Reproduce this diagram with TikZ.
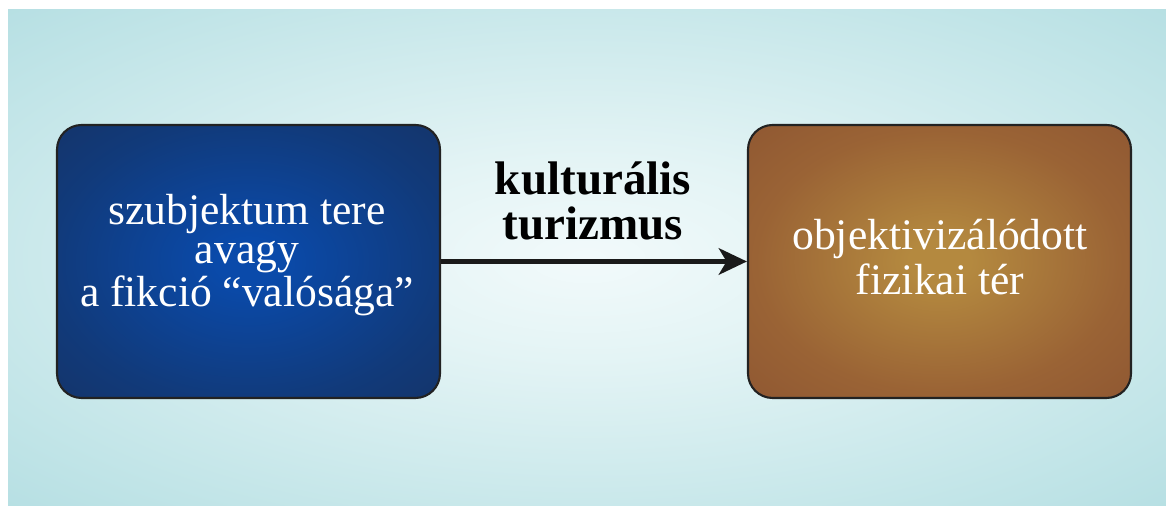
\documentclass[tikz,border=0pt]{standalone}
\usepackage{fontspec}
\setmainfont{Liberation Serif}
\usetikzlibrary{arrows.meta}
\definecolor{bgin}{HTML}{F2FAFB}
\definecolor{bgin2}{HTML}{E4F4F5}
\definecolor{bgmid}{HTML}{C0E4E7}
\definecolor{bgout}{HTML}{A8D8DD}
\definecolor{lin}{HTML}{0A4AAA}
\definecolor{lmid}{HTML}{113A7A}
\definecolor{lout}{HTML}{17305E}
\definecolor{rin}{HTML}{B4893F}
\definecolor{rmid}{HTML}{9A6335}
\definecolor{rout}{HTML}{8A5231}
\definecolor{boxline}{HTML}{222222}
\definecolor{arrowc}{HTML}{1A1A1A}
\pgfdeclareradialshading{bgshade}{\pgfpointorigin}{color(0bp)=(bgin); color(10bp)=(bgin2); color(30bp)=(bgmid); color(44bp)=(bgout); color(72bp)=(bgout)}
\pgfdeclareradialshading{lshade}{\pgfpointorigin}{color(0bp)=(lin); color(4bp)=(lin); color(26bp)=(lmid); color(44bp)=(lout); color(72bp)=(lout)}
\pgfdeclareradialshading{rshade}{\pgfpointorigin}{color(0bp)=(rin); color(4bp)=(rin); color(24bp)=(rmid); color(42bp)=(rout); color(72bp)=(rout)}
\tikzset{
  boxnode/.style={draw=boxline, line width=0.6pt, rounded corners=7pt, shade,
    minimum width=38.3mm, minimum height=27.3mm, inner sep=0pt},
  boxtext/.style={text=white, align=center, inner sep=0pt},
  lbltext/.style={text=black, align=center, inner sep=0pt,
    font=\fontsize{13.4}{12.8}\selectfont\bfseries},
  arrowline/.style={draw=arrowc, line width=1.45pt,
    -{Stealth[length=8pt,width=7.5pt,inset=2.2pt]}}
}
\begin{document}
\begin{tikzpicture}[x=0.1mm,y=-0.1mm]
\useasboundingbox (0,0) rectangle (1166,506);
\fill[white] (0,0) rectangle (1166,506);
\shade[shading=bgshade] (8,10) rectangle (1166,506);
\node[boxnode, shading=lshade] (L) at (248.5,261.5) {};
\node[boxnode, shading=rshade] (R) at (939.5,261.5) {};
\node[boxtext, font=\fontsize{12.4}{11.1}\selectfont] (Lt) at (247,255)
  {szubjektum tere\\avagy\\a fikció “valósága”};
\node[boxtext, font=\fontsize{12.4}{12.8}\selectfont] (Rt) at (940,257)
  {objektivizálódott\\fizikai tér};
\node[lbltext] (K) at (593,201) {kulturális\\turizmus};
\draw[arrowline] (L.east) -- (R.west);
\end{tikzpicture}
\end{document}
